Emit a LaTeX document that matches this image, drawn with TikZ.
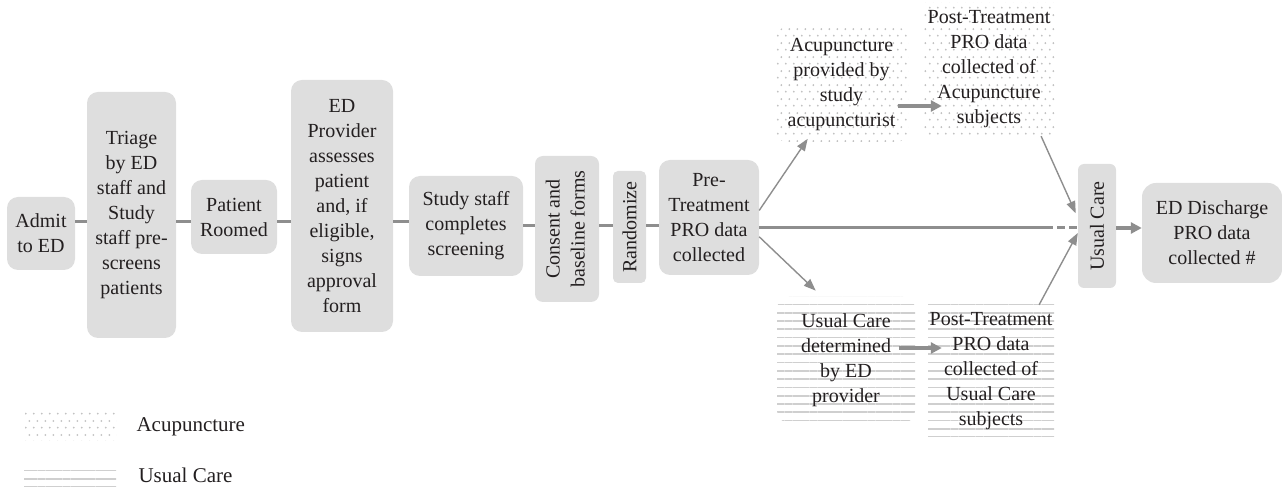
\documentclass[tikz,border=0pt]{standalone}
\usepackage{fontspec}
\setmainfont{Liberation Serif}
\usetikzlibrary{arrows.meta,patterns.meta,calc}

\definecolor{boxgray}{HTML}{DEDEDE}
\definecolor{linegray}{HTML}{8E8E8E}
\definecolor{patgray}{HTML}{CFCFCF}
\definecolor{dotgray}{HTML}{C2C2C2}
\definecolor{inkcol}{HTML}{231F20}

% staggered dots for the acupuncture arm
\tikzdeclarepattern{
  name=acudots,
  type=uncolored,
  bottom left={(0pt,0pt)},
  top right={(8pt,14pt)},
  tile size={(8pt,14pt)},
  code={
    \fill (2pt,3.5pt) circle (1.1pt);
    \fill (6pt,10.5pt) circle (1.1pt);
  }
}

\begin{document}
\begin{tikzpicture}[x=1pt,y=1pt,
  font=\fontsize{20}{25}\selectfont,
  box/.style={fill=boxgray,rounded corners=11pt,inner sep=1pt,align=center,text=inkcol},
  acubox/.style={pattern=acudots,pattern color=dotgray,inner sep=1pt,align=center,text=inkcol},
  ucbox/.style={pattern={Lines[angle=0,distance=8.3pt,line width=1.7pt]},pattern color=patgray,inner sep=1pt,align=center,text=inkcol},
  link/.style={draw=linegray,line width=3pt},
  fat/.style={draw=linegray,line width=3.2pt,-{Triangle[length=11pt,width=11pt]}},
  slim/.style={draw=linegray,line width=1.4pt,-{Triangle[length=12pt,width=9pt]}}]
  \useasboundingbox (0,0) rectangle (1282,487);

  \node[box,minimum width=68pt,minimum height=73pt] (admit) at (41,253.5) {Admit\\to ED};
  \node[box,minimum width=89pt,minimum height=246pt] (triage) at (131.5,272) {Triage\\by ED\\staff and\\Study\\staff pre-\\screens\\patients};
  \node[box,minimum width=86pt,minimum height=74pt] (roomed) at (234,270) {Patient\\Roomed};
  \node[box,minimum width=102pt,minimum height=252pt] (provider) at (342,281) {ED\\Provider\\assesses\\patient\\and, if\\eligible,\\signs\\approval\\form};
  \node[box,minimum width=114pt,minimum height=100pt] (screen) at (466,261) {Study staff\\completes\\screening};
  \node[box,rounded corners=8pt,minimum width=64pt,minimum height=146pt] (consent) at (567,258)
    {\rotatebox{90}{\begin{tabular}{@{}c@{}}Consent and\\baseline forms\end{tabular}}};
  \node[box,rounded corners=5pt,minimum width=33pt,minimum height=112pt] (randomize) at (629.5,260) {\rotatebox{90}{Randomize}};
  \node[box,minimum width=100pt,minimum height=115pt] (pretreat) at (709,269.5) {Pre-\\Treatment\\PRO data\\collected};

  \node[acubox,rounded corners=12pt,minimum width=133pt,minimum height=115pt] (acu) at (841.5,402.5) {Acupuncture\\provided by\\study\\acupuncturist};
  \node[acubox,minimum width=132pt,minimum height=133pt] (postacu) at (989,417.5) {Post-Treatment\\PRO data\\collected of\\Acupuncture\\subjects};
  \node[ucbox,rounded corners=12pt,minimum width=138pt,minimum height=126pt] (usual) at (846,127) {Usual Care\\determined\\by ED\\provider};
  \node[ucbox,minimum width=126pt,minimum height=132pt] (postuc) at (991,116) {Post-Treatment\\PRO data\\collected of\\Usual Care\\subjects};

  \node[box,rounded corners=6pt,minimum width=38pt,minimum height=124pt] (ucend) at (1097,261) {\rotatebox{90}{Usual Care}};
  \node[box,rounded corners=14pt,minimum width=140pt,minimum height=100pt] (discharge) at (1212,254) {ED Discharge\\PRO data\\collected \#};

  \coordinate (lineA) at (0,265);
  \coordinate (lineB) at (0,261);
  \coordinate (mainline) at (0,259);
  \coordinate (dashfrom) at (1053,259);

  \foreach \a/\b in {admit/triage,triage/roomed,roomed/provider,provider/screen}
    \draw[link] (\a.east |- lineA) -- (\b.west |- lineA);
  \foreach \a/\b in {screen/consent,consent/randomize,randomize/pretreat}
    \draw[link] (\a.east |- lineB) -- (\b.west |- lineB);

  \draw[link] (pretreat.east |- mainline) -- (dashfrom);
  \draw[link,dash pattern=on 8pt off 4pt,dash phase=8pt] (dashfrom) -- (ucend.west |- mainline);
  \draw[fat] (ucend.east |- mainline) -- (discharge.west |- mainline);

  \draw[slim,shorten >=-4pt] (pretreat.8) -- (acu.238);
  \draw[slim,shorten >=8pt] (pretreat.-21) -- (usual.111);
  \draw[fat] ($(acu.east)+(-10,-21.5)$) -- ($(acu.east -| postacu.west)+(19,-21.5)$);
  \draw[fat] ($(usual.east)+(-17,12)$) -- ($(usual.east -| postuc.west)+(14,12)$);
  \draw[slim,shorten >=5pt] (postacu.-52) -- (ucend.157);
  \draw[slim] (postuc.54) -- (ucend.200);

  % legend
  \node[acubox,minimum width=91pt,minimum height=28pt] (legacu) at (70.5,60) {};
  \node[anchor=west,text=inkcol,font=\fontsize{21}{25}\selectfont] (legacutext) at (133,60) {Acupuncture};
  \node[ucbox,minimum width=92pt,minimum height=20pt] (leguc) at (70,10) {};
  \node[anchor=west,text=inkcol,font=\fontsize{21}{25}\selectfont] (leguctext) at (135,12) {Usual Care};
\end{tikzpicture}
\end{document}
